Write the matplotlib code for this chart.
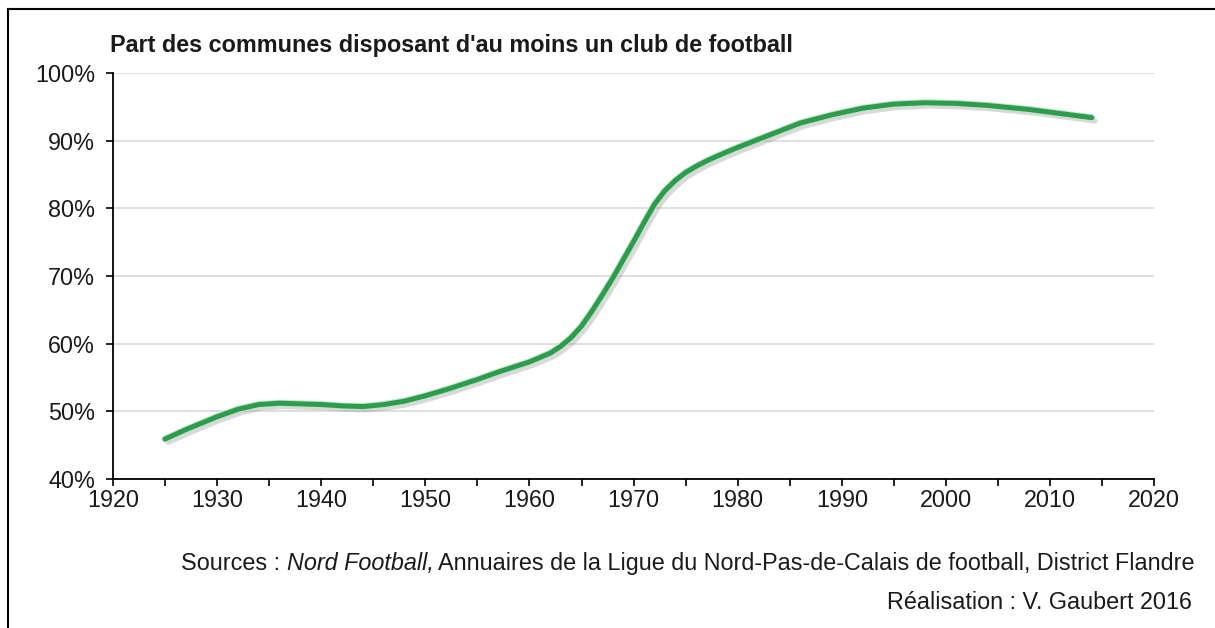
import matplotlib.pyplot as plt
import matplotlib.patheffects as pe
from matplotlib.ticker import MultipleLocator, FuncFormatter

plt.rcParams['font.family'] = ['Liberation Sans', 'DejaVu Sans']

# Part des communes disposant d'au moins un club (en %)
annees = [1925, 1927, 1930, 1932, 1934, 1936, 1938, 1940, 1942, 1944, 1946, 1948,
          1950, 1952, 1955, 1957, 1960, 1962, 1963, 1964, 1965, 1966, 1967, 1968,
          1969, 1970, 1971, 1972, 1973, 1974, 1975, 1976, 1977, 1978, 1980, 1983,
          1986, 1989, 1992, 1995, 1998, 2001, 2004, 2008, 2011, 2014]
part = [45.9, 47.3, 49.2, 50.3, 51.0, 51.2, 51.1, 51.0, 50.8, 50.7, 51.0, 51.5,
        52.3, 53.2, 54.7, 55.8, 57.3, 58.6, 59.6, 60.9, 62.6, 64.8, 67.2, 69.7,
        72.4, 75.1, 77.9, 80.6, 82.6, 84.1, 85.3, 86.2, 87.0, 87.7, 89.0, 90.8,
        92.6, 93.8, 94.8, 95.4, 95.6, 95.5, 95.2, 94.6, 94.0, 93.4]

titre = "Part des communes disposant d'au moins un club de football"
realisation = "Réalisation : V. Gaubert 2016"

fs = 16.8
ink = '#1a1a1a'

fig = plt.figure(figsize=(12.15, 6.28), dpi=100)
ax = fig.add_axes([0.093, 0.2373, 0.857, 0.6465])

ax.plot(annees, part, color='#2f9b4e', lw=3.6, solid_capstyle='round',
        solid_joinstyle='round', zorder=3,
        path_effects=[pe.SimpleLineShadow(offset=(2.5, -2.5), shadow_color='#9a8f95', alpha=0.35),
                      pe.Stroke(linewidth=5, foreground='#b9e8c3'),
                      pe.Normal()])

ax.set_xlim(1920, 2020)
ax.set_ylim(40, 100)
ax.xaxis.set_major_locator(MultipleLocator(10))
ax.xaxis.set_minor_locator(MultipleLocator(5))
ax.yaxis.set_major_locator(MultipleLocator(10))
ax.yaxis.set_major_formatter(FuncFormatter(lambda v, p: f'{v:.0f}%'))

ax.grid(axis='y', color='#d9d9d9', lw=1.2)
ax.set_axisbelow(True)
for s in ['top', 'right']:
    ax.spines[s].set_visible(False)
for s in ['left', 'bottom']:
    ax.spines[s].set_linewidth(1.3)
ax.tick_params(axis='both', which='both', direction='out', length=5, width=1.2,
               labelsize=fs, colors='black', labelcolor=ink, pad=2)
ax.tick_params(axis='y', pad=8)

fig.text(0.0905, 0.928, titre, fontsize=fs, fontweight='bold', color=ink,
         ha='left', va='center')

# ligne des sources assemblée en morceaux pour mettre le titre du journal en italique
yl = 0.103
t1 = fig.text(0.149, yl, "Sources : ", fontsize=fs, color=ink, ha='left', va='center')
fig.canvas.draw()
r = fig.canvas.get_renderer()
bb = t1.get_window_extent(r)
t2 = fig.text(bb.x1 / fig.bbox.width, yl, "Nord Football,", fontsize=fs, color=ink,
              style='italic', ha='left', va='center')
bb2 = t2.get_window_extent(r)
fig.text(bb2.x1 / fig.bbox.width + 0.004, yl,
         "Annuaires de la Ligue du Nord-Pas-de-Calais de football, District Flandre",
         fontsize=fs, color=ink, ha='left', va='center')
fig.text(0.981, 0.041, realisation, fontsize=fs, color=ink, ha='right', va='center')

# cadre
fig.add_artist(plt.Line2D([8 / 1215, 1], [1 - 9 / 628, 1 - 9 / 628], color='black', lw=1.5))
fig.add_artist(plt.Line2D([8 / 1215, 8 / 1215], [0, 1 - 9 / 628], color='black', lw=1.5))

fig.savefig('out.png', dpi=100)
